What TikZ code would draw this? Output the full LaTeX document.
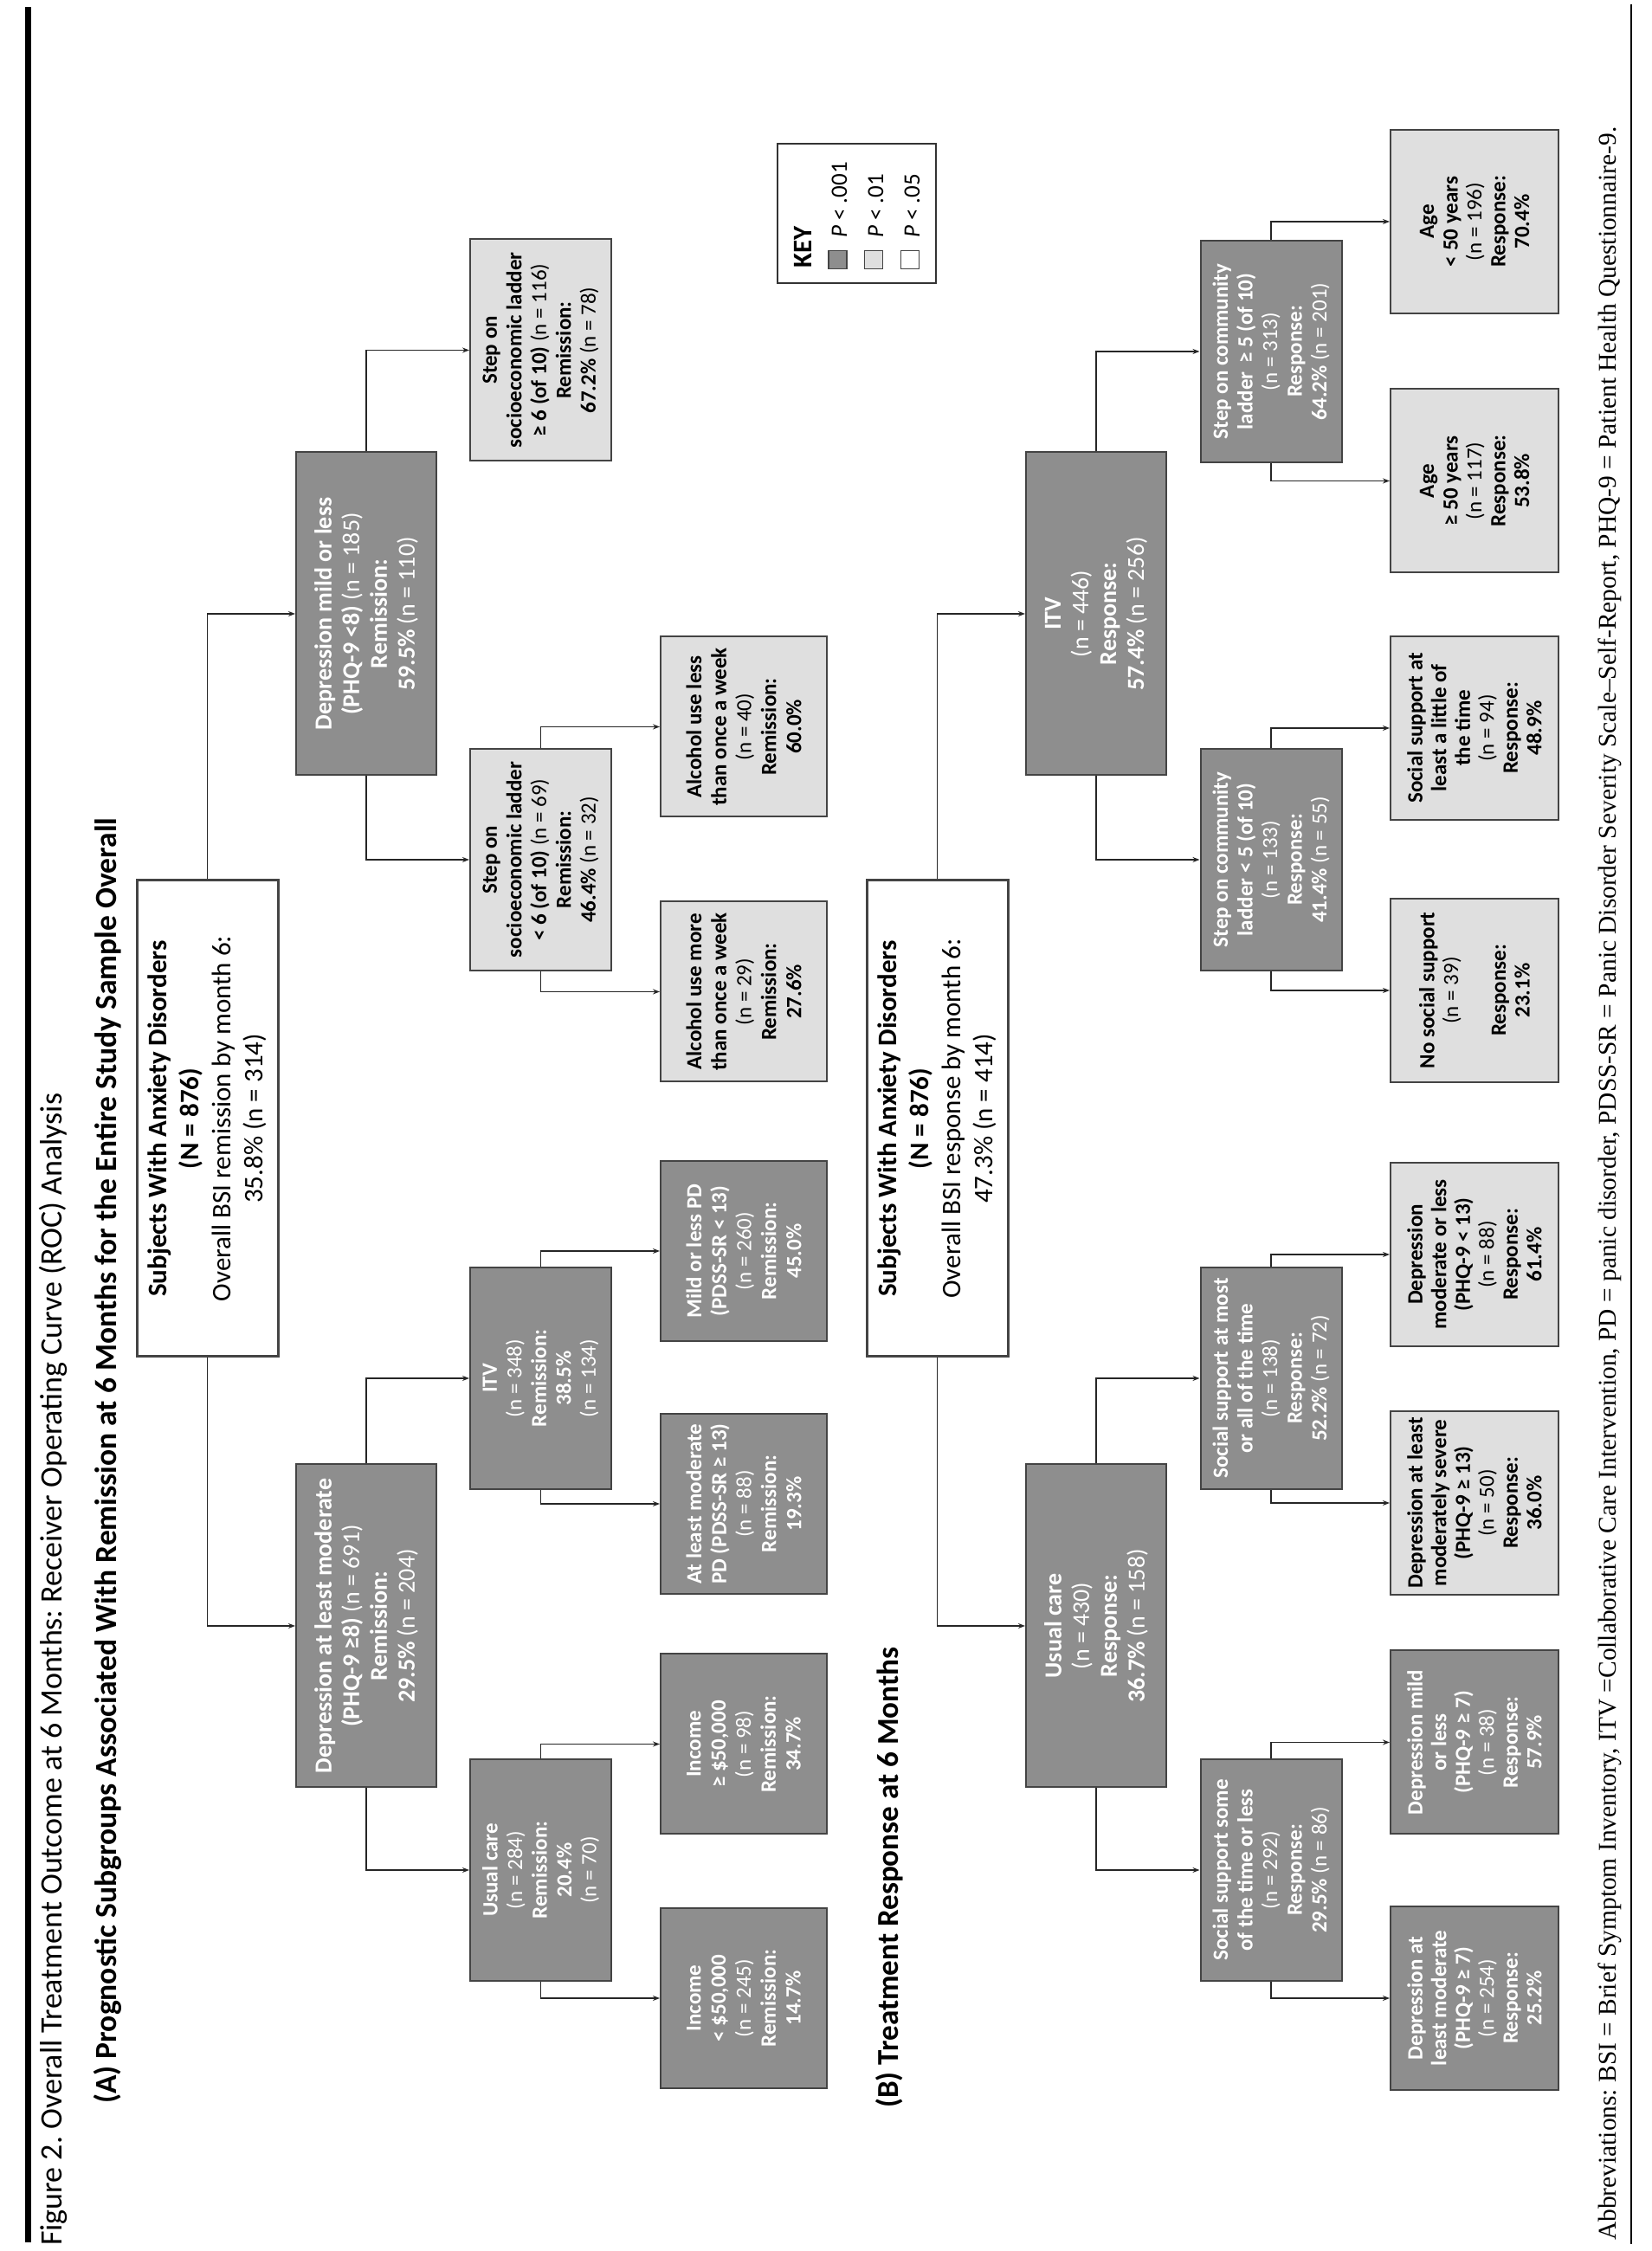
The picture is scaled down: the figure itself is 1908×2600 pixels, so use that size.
\documentclass[tikz,border=0pt]{standalone}
\usepackage{graphicx}
\usepackage{fontspec}
\setmainfont{Carlito}
\newfontfamily\footfont{Liberation Serif}
\usetikzlibrary{arrows.meta}
\definecolor{darkbox}{RGB}{142,142,142}
\definecolor{lightbox}{RGB}{223,223,223}
\definecolor{edgecol}{RGB}{68,68,68}
\newcommand{\nn}[1]{{\mdseries #1}}
\frenchspacing
\begin{document}
\begin{tikzpicture}[x=1pt,y=1pt,
  box/.style={draw=edgecol, line width=2pt, rectangle, align=center, inner sep=0pt},
  dk/.style={box, fill=darkbox, text=white},
  lt/.style={box, fill=lightbox, text=black},
  lvtwo/.style={minimum width=373pt, minimum height=162pt, font=\bfseries\fontsize{28}{32}\selectfont},
  lvthree/.style={minimum width=256pt, minimum height=163pt, font=\bfseries\fontsize{25}{28.5}\selectfont},
  lvfourA/.style={minimum width=208pt, minimum height=192pt, font=\bfseries\fontsize{25}{28.8}\selectfont},
  lvfourB/.style={minimum width=212pt, minimum height=194pt, font=\bfseries\fontsize{25}{27.5}\selectfont},
  rootbox/.style={draw=edgecol, line width=3pt, fill=white, align=center, inner sep=0pt, minimum width=550pt, minimum height=163pt, font=\fontsize{31}{37}\selectfont},
  conn/.style={draw=black!85, line width=1.3pt, -{Stealth[length=8pt,width=6pt]}},
  txt/.style={anchor=base west, inner sep=0pt},
  keysq/.style={draw=edgecol, line width=1.5pt, minimum size=21pt, inner sep=0pt},
]
\useasboundingbox (0,0) rectangle (1908,2600);
\begin{scope}[rotate=90, transform shape]
% rules and titles
\draw[line width=6.5pt] (10,-32.5) -- (2592,-32.5);
\draw[line width=1.5pt] (8,-1884) -- (2595,-1884);
\node[txt] (figtitle) at (6,-72) {\resizebox{1331pt}{!}{Figure 2. Overall Treatment Outcome at 6 Months: Receiver Operating Curve (ROC) Analysis}};
\node[txt] (titleA) at (170,-135) {\resizebox{1485pt}{!}{\bfseries (A) Prognostic Subgroups Associated With Remission at 6 Months for the Entire Study Sample Overall}};
\node[txt] (titleB) at (165,-1037) {\resizebox{532pt}{!}{\bfseries (B) Treatment Response at 6 Months}};
\node[txt] (foot) at (12,-1866) {\resizebox{2441pt}{!}{\footfont Abbreviations: BSI = Brief Symptom Inventory, ITV =Collaborative Care Intervention, PD = panic disorder, PDSS-SR = Panic Disorder Severity Scale–Self-Report, PHQ-9 = Patient Health Questionnaire-9.}};

% ---------- Panel A ----------
\node[rootbox] (rootA) at (1308,-239.5) {\textbf{Subjects With Anxiety Disorders}\\\textbf{(N = 876)}\\Overall BSI remission by month 6:\\35.8\% (n = 314)};
\node[dk,lvtwo] (depModA) at (722,-423) {Depression at least moderate\\(PHQ-9 ≥8) \nn{(n = 691)}\\Remission:\\29.5\% \nn{(n = 204)}};
\node[dk,lvtwo] (depMildA) at (1891,-423) {Depression mild or less\\(PHQ-9 <8) \nn{(n = 185)}\\Remission:\\59.5\% \nn{(n = 110)}};
\node[dk,lvthree] (ucA) at (440,-624.5) {Usual care\\\nn{(n = 284)}\\Remission:\\20.4\%\\\nn{(n = 70)}};
\node[dk,lvthree] (itvA) at (1008,-624.5) {ITV\\\nn{(n = 348)}\\Remission:\\38.5\%\\\nn{(n = 134)}};
\node[lt,lvthree] (step6lo) at (1607,-624.5) {Step on\\socioeconomic ladder\\< 6 (of 10) \nn{(n = 69)}\\Remission:\\46.4\% \nn{(n = 32)}};
\node[lt,lvthree] (step6hi) at (2195.5,-624.5) {Step on\\socioeconomic ladder\\≥ 6 (of 10) \nn{(n = 116)}\\Remission:\\67.2\% \nn{(n = 78)}};
\node[dk,lvfourA] (incLo) at (292,-859) {Income\\< \$50,000\\\nn{(n = 245)}\\Remission:\\14.7\%};
\node[dk,lvfourA] (incHi) at (585.5,-859) {Income\\≥ \$50,000\\\nn{(n = 98)}\\Remission:\\34.7\%};
\node[dk,lvfourA] (pdMod) at (863,-859) {At least moderate\\PD (PDSS-SR ≥ 13)\\\nn{(n = 88)}\\Remission:\\19.3\%};
\node[dk,lvfourA] (pdMild) at (1155,-859) {Mild or less PD\\(PDSS-SR < 13)\\\nn{(n = 260)}\\Remission:\\45.0\%};
\node[lt,lvfourA] (alcMore) at (1454.5,-859) {Alcohol use more\\than once a week\\\nn{(n = 29)}\\Remission:\\27.6\%};
\node[lt,lvfourA] (alcLess) at (1760.5,-859) {Alcohol use less\\than once a week\\\nn{(n = 40)}\\Remission:\\60.0\%};

% ---------- Panel B ----------
\node[rootbox] (rootB) at (1308,-1082.5) {\textbf{Subjects With Anxiety Disorders}\\\textbf{(N = 876)}\\Overall BSI response by month 6:\\47.3\% (n = 414)};
\node[dk,lvtwo] (ucB) at (722,-1266) {Usual care\\\nn{(n = 430)}\\Response:\\36.7\% \nn{(n = 158)}};
\node[dk,lvtwo] (itvB) at (1891,-1266) {ITV\\\nn{(n = 446)}\\Response:\\57.4\% \nn{(n = 256)}};
\node[dk,lvthree] (ssSome) at (440,-1468) {Social support some\\of the time or less\\\nn{(n = 292)}\\Response:\\29.5\% \nn{(n = 86)}};
\node[dk,lvthree] (ssMost) at (1008,-1468) {Social support at most\\or all of the time\\\nn{(n = 138)}\\Response:\\52.2\% \nn{(n = 72)}};
\node[dk,lvthree] (comLo) at (1607,-1468) {Step on community\\ladder < 5 (of 10)\\\nn{(n = 133)}\\Response:\\41.4\% \nn{(n = 55)}};
\node[dk,lvthree] (comHi) at (2194,-1468) {Step on community\\ladder\, ≥ 5 (of 10)\\\nn{(n = 313)}\\Response:\\64.2\% \nn{(n = 201)}};
\node[dk,lvfourB] (dModB) at (292,-1703) {Depression at\\least moderate\\(PHQ-9 ≥ 7)\\\nn{(n = 254)}\\Response:\\25.2\%};
\node[dk,lvfourB] (dMildB) at (587.5,-1703) {Depression mild\\or less\\(PHQ-9 ≥ 7)\\\nn{(n = 38)}\\Response:\\57.9\%};
\node[lt,lvfourB] (dModSev) at (864,-1703) {Depression at least\\moderately severe\\(PHQ-9 ≥ 13)\\\nn{(n = 50)}\\Response:\\36.0\%};
\node[lt,lvfourB] (dModLess) at (1151,-1703) {Depression\\moderate or less\\(PHQ-9 < 13)\\\nn{(n = 88)}\\Response:\\61.4\%};
\node[lt,lvfourB] (noSocial) at (1456,-1703) {No social support\\\nn{(n = 39)}\\~\\Response:\\23.1\%};
\node[lt,lvfourB] (ssLittle) at (1759,-1703) {Social support at\\least a little of\\the time\\\nn{(n = 94)}\\Response:\\48.9\%};
\node[lt,lvfourB] (ageGe) at (2044.5,-1703) {Age\\≥ 50 years\\\nn{(n = 117)}\\Response:\\53.8\%};
\node[lt,lvfourB] (ageLt) at (2344,-1703) {Age\\< 50 years\\\nn{(n = 196)}\\Response:\\70.4\%};

% ---------- Key ----------
\node[draw=black!80, line width=2pt, minimum width=161pt, minimum height=183pt, inner sep=0pt] (key) at (2353.5,-989.5) {};
\node[txt, font=\bfseries\fontsize{31}{31}\selectfont] (keylbl) at (2290,-937) {KEY};
\node[keysq, fill=darkbox] (k1) at (2300,-967.5) {};
\node[keysq, fill=lightbox] (k2) at (2300,-1009) {};
\node[keysq, fill=white] (k3) at (2300,-1051) {};
\node[txt, font=\fontsize{27}{27}\selectfont] (kt1) at (2325,-978) {\textit{P} < .001};
\node[txt, font=\fontsize{27}{27}\selectfont] (kt2) at (2325,-1020) {\textit{P} < .01};
\node[txt, font=\fontsize{27}{27}\selectfont] (kt3) at (2325,-1062) {\textit{P} < .05};

% ---------- Connectors ----------
\foreach \p/\l/\r in {rootA/depModA/depMildA, depModA/ucA/itvA, depMildA/step6lo/step6hi,
  ucA/incLo/incHi, itvA/pdMod/pdMild, step6lo/alcMore/alcLess,
  rootB/ucB/itvB, ucB/ssSome/ssMost, itvB/comLo/comHi,
  ssSome/dModB/dMildB, ssMost/dModSev/dModLess, comLo/noSocial/ssLittle, comHi/ageGe/ageLt}{
  \draw[conn] (\p.west) -| (\l.north);
  \draw[conn] (\p.east) -| (\r.north);
}
\end{scope}
\end{tikzpicture}
\end{document}
